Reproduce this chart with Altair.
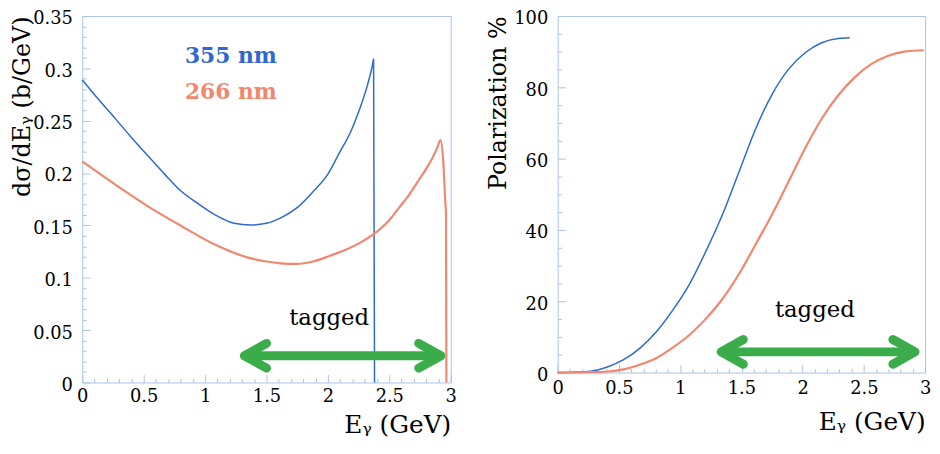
import altair as alt
import pandas as pd

FONT = "DejaVu Serif"
FRAME = "#aac4e6"
BLUE = "#2f68d3"
RED = "#f2876f"
GREEN = "#3aad4a"

series = ["355 nm", "266 nm"]
colors = [BLUE, RED]

# ---- cross section dσ/dE (b/GeV) ----
xs_355 = [0.0, 0.135, 0.269, 0.4, 0.538, 0.67, 0.806, 0.94, 1.075, 1.237, 1.371, 1.5,
          1.613, 1.75, 1.882, 2.0, 2.097, 2.18, 2.258, 2.32, 2.366, 2.372, 2.38]
cs_355 = [0.289, 0.27, 0.252, 0.234, 0.216, 0.199, 0.1826, 0.171, 0.1605, 0.152, 0.1504, 0.152,
          0.157, 0.167, 0.1826, 0.199, 0.22, 0.238, 0.261, 0.283, 0.305, 0.309, 0.0]

xs_266 = [0.0, 0.269, 0.538, 0.806, 1.075, 1.344, 1.5, 1.613, 1.747, 1.88, 2.016, 2.15, 2.285,
          2.419, 2.5, 2.58, 2.66, 2.742, 2.8, 2.849, 2.89, 2.917, 2.94, 2.955, 2.962, 2.965]
cs_266 = [0.211, 0.189, 0.168, 0.1495, 0.132, 0.1195, 0.1155, 0.1138, 0.1132, 0.1155, 0.121, 0.127, 0.135,
          0.146, 0.155, 0.167, 0.179, 0.1936, 0.204, 0.214, 0.224, 0.2315, 0.21, 0.175, 0.16, 0.0]

# ---- polarization % ----
px_355 = [0.0, 0.27, 0.4, 0.539, 0.67, 0.808, 0.94, 1.078, 1.213, 1.347, 1.482, 1.617, 1.752,
          1.886, 2.021, 2.156, 2.29, 2.385]
pol_355 = [0.0, 0.4, 1.5, 3.6, 6.8, 11.5, 17.5, 24.9, 34.2, 44.4, 56.4, 68.4, 78.1,
           85.1, 89.7, 92.5, 93.7, 93.9]

px_266 = [0.0, 0.27, 0.404, 0.539, 0.67, 0.808, 0.94, 1.078, 1.213, 1.347, 1.482, 1.617, 1.752,
          1.886, 2.021, 2.156, 2.29, 2.425, 2.56, 2.695, 2.829, 2.99]
pol_266 = [0.0, 0.1, 0.3, 0.9, 2.2, 4.1, 7.0, 10.6, 15.2, 20.7, 27.7, 36.0, 44.4,
           53.6, 62.9, 71.2, 77.7, 82.8, 86.5, 88.8, 90.0, 90.4]

# ---- ticks ----
x_major = [0, 0.5, 1, 1.5, 2, 2.5, 3]
x_minor = [0.1, 0.2, 0.3, 0.4, 0.6, 0.7, 0.8, 0.9, 1.1, 1.2, 1.3, 1.4, 1.6, 1.7, 1.8, 1.9,
           2.1, 2.2, 2.3, 2.4, 2.6, 2.7, 2.8, 2.9]
ycs_major = [0, 0.05, 0.1, 0.15, 0.2, 0.25, 0.3, 0.35]
ycs_minor = [0.01, 0.02, 0.03, 0.04, 0.06, 0.07, 0.08, 0.09, 0.11, 0.12, 0.13, 0.14,
             0.16, 0.17, 0.18, 0.19, 0.21, 0.22, 0.23, 0.24, 0.26, 0.27, 0.28, 0.29,
             0.31, 0.32, 0.33, 0.34]
ypol_major = [0, 20, 40, 60, 80, 100]
ypol_minor = [5, 10, 15, 25, 30, 35, 45, 50, 55, 65, 70, 75, 85, 90, 95]

# ---- annotations ----
lab_cs_E = [1.21, 1.21]
lab_cs_v = [0.312, 0.277]
tag_cs = [2.01, 0.0615]
tag_pol = [2.10, 17.5]
arrow_cs_E = [1.32, 2.92]
arrow_cs_v = [0.0255, 0.0255]
arrow_pol_E = [1.335, 2.918]
arrow_pol_v = [5.8, 5.8]

# chevron heads drawn with a tiny nominal symbol size so their layout bounds stay small
HEAD_L = "M22.4,-12.5L0,0L22.4,12.5"
HEAD_R = "M-22.4,-12.5L0,0L-22.4,12.5"


def curves_df(xa, ya, xb, yb):
    rows = [{"E": x, "v": y, "series": series[0]} for x, y in zip(xa, ya)]
    rows += [{"E": x, "v": y, "series": series[1]} for x, y in zip(xb, yb)]
    return pd.DataFrame(rows)


def panel(df, ydom, ymaj, ymin, yfmt, ytitle, w, h, xlabpad, xtitle_y, lab_df, tag, arr_E, arr_v):
    xs = alt.Scale(domain=[0, 3], nice=False, zero=False)
    ys = alt.Scale(domain=ydom, nice=False, zero=False)

    x_main = alt.Axis(orient="bottom", values=x_major, format=".1~f", ticks=False, tickSize=0,
                      domain=False, grid=False, labelPadding=xlabpad, labelFont=FONT,
                      labelFontSize=18, labelColor="black", labelFlush=False, labelOverlap=False,
                      title="Eᵧ (GeV)", titleX=w, titleY=xtitle_y,
                      titleAlign="right", titleBaseline="bottom", titleFont=FONT,
                      titleFontSize=25, titleFontWeight="normal", titleColor="black")
    y_main = alt.Axis(orient="left", values=ymaj, format=yfmt, ticks=False, tickSize=0,
                      domain=False, grid=False, labelPadding=10, labelOffset=3, labelFont=FONT,
                      labelFontSize=18, labelColor="black", labelFlush=False, labelOverlap=False,
                      title=ytitle, titleX=-60, titleY=0, titleAngle=-90, titleAlign="right",
                      titleBaseline="middle", titleFont=FONT, titleFontSize=24,
                      titleFontWeight="normal", titleColor="black")

    def tick_axis(orient, vals, size):
        return alt.Axis(orient=orient, values=vals, labels=False, domain=False, grid=False,
                        ticks=True, tickSize=size, tickColor=FRAME, tickWidth=1,
                        offset=-size, title=None)

    lines = alt.Chart(df).mark_line(interpolate="monotone", strokeCap="butt",
                                    strokeJoin="round").encode(
        x=alt.X("E:Q", scale=xs, axis=x_main),
        y=alt.Y("v:Q", scale=ys, axis=y_main),
        color=alt.Color("series:N", scale=alt.Scale(domain=series, range=colors), legend=None),
        strokeWidth=alt.StrokeWidth("series:N", scale=alt.Scale(domain=series, range=[1.5, 2.2]),
                                    legend=None),
        order=alt.Order("idx:Q"),
    ).transform_window(idx="row_number()", groupby=["series"])

    tmaj = alt.Chart(df).mark_line(opacity=0).encode(
        x=alt.X("E:Q", scale=xs, axis=tick_axis("bottom", x_major, 8)),
        y=alt.Y("v:Q", scale=ys, axis=tick_axis("left", ymaj, 8)),
    )
    tmin = alt.Chart(df).mark_line(opacity=0).encode(
        x=alt.X("E:Q", scale=xs, axis=tick_axis("bottom", x_minor, 4)),
        y=alt.Y("v:Q", scale=ys, axis=tick_axis("left", ymin, 4)),
    )

    layers = [tmin, tmaj, lines]

    if lab_df is not None:
        labels = alt.Chart(lab_df).mark_text(font=FONT, fontSize=22, fontWeight="bold",
                                             baseline="middle", align="center").encode(
            x=alt.X("E:Q", scale=xs, axis=None),
            y=alt.Y("v:Q", scale=ys, axis=None),
            text="label:N",
            color=alt.Color("label:N", scale=alt.Scale(domain=series, range=colors), legend=None),
        )
        layers.append(labels)

    tag_df = pd.DataFrame({"E": [tag[0]], "v": [tag[1]], "t": ["tagged"]})
    tagged = alt.Chart(tag_df).mark_text(font=FONT, fontSize=23, color="black",
                                         baseline="middle", align="center").encode(
        x=alt.X("E:Q", scale=xs, axis=None),
        y=alt.Y("v:Q", scale=ys, axis=None),
        text="t:N",
    )
    arr_df = pd.DataFrame({"E": arr_E, "v": arr_v, "side": ["left", "right"]})
    shaft = alt.Chart(arr_df).mark_line(color=GREEN, strokeWidth=9, strokeCap="butt",
                                        strokeJoin="round").encode(
        x=alt.X("E:Q", scale=xs, axis=None),
        y=alt.Y("v:Q", scale=ys, axis=None),
    )
    heads = alt.Chart(arr_df).mark_point(filled=False, color=GREEN, strokeWidth=9, opacity=1,
                                         strokeCap="round", strokeJoin="round", size=4).encode(
        x=alt.X("E:Q", scale=xs, axis=None),
        y=alt.Y("v:Q", scale=ys, axis=None),
        shape=alt.Shape("side:N", scale=alt.Scale(domain=["left", "right"], range=[HEAD_L, HEAD_R]),
                        legend=None),
    )
    layers += [tagged, shaft, heads]

    return alt.layer(*layers).resolve_axis(x="independent", y="independent").properties(
        width=w, height=h)


cs_df = curves_df(xs_355, cs_355, xs_266, cs_266)
pol_df = curves_df(px_355, pol_355, px_266, pol_266)
lab_df = pd.DataFrame({"E": lab_cs_E, "v": lab_cs_v, "label": series})

left = panel(cs_df, [0, 0.35], ycs_major, ycs_minor, ".2~f", "dσ/dEᵧ (b/GeV)", 372, 370, 5, 56,
             lab_df, tag_cs, arrow_cs_E, arrow_cs_v)
right = panel(pol_df, [0, 100], ypol_major, ypol_minor, "d", "Polarization %", 371, 360, 7, 62,
              None, tag_pol, arrow_pol_E, arrow_pol_v)

chart = alt.hconcat(left, right, spacing=108, bounds="flush").properties(
    autosize=alt.AutoSizeParams(type="pad"),
    padding={"left": 2, "top": -1, "right": 0, "bottom": 0},
    background="white",
).configure_view(stroke=FRAME, strokeWidth=1)

chart.save("out.html", embed_options={"renderer": "svg", "actions": False})
